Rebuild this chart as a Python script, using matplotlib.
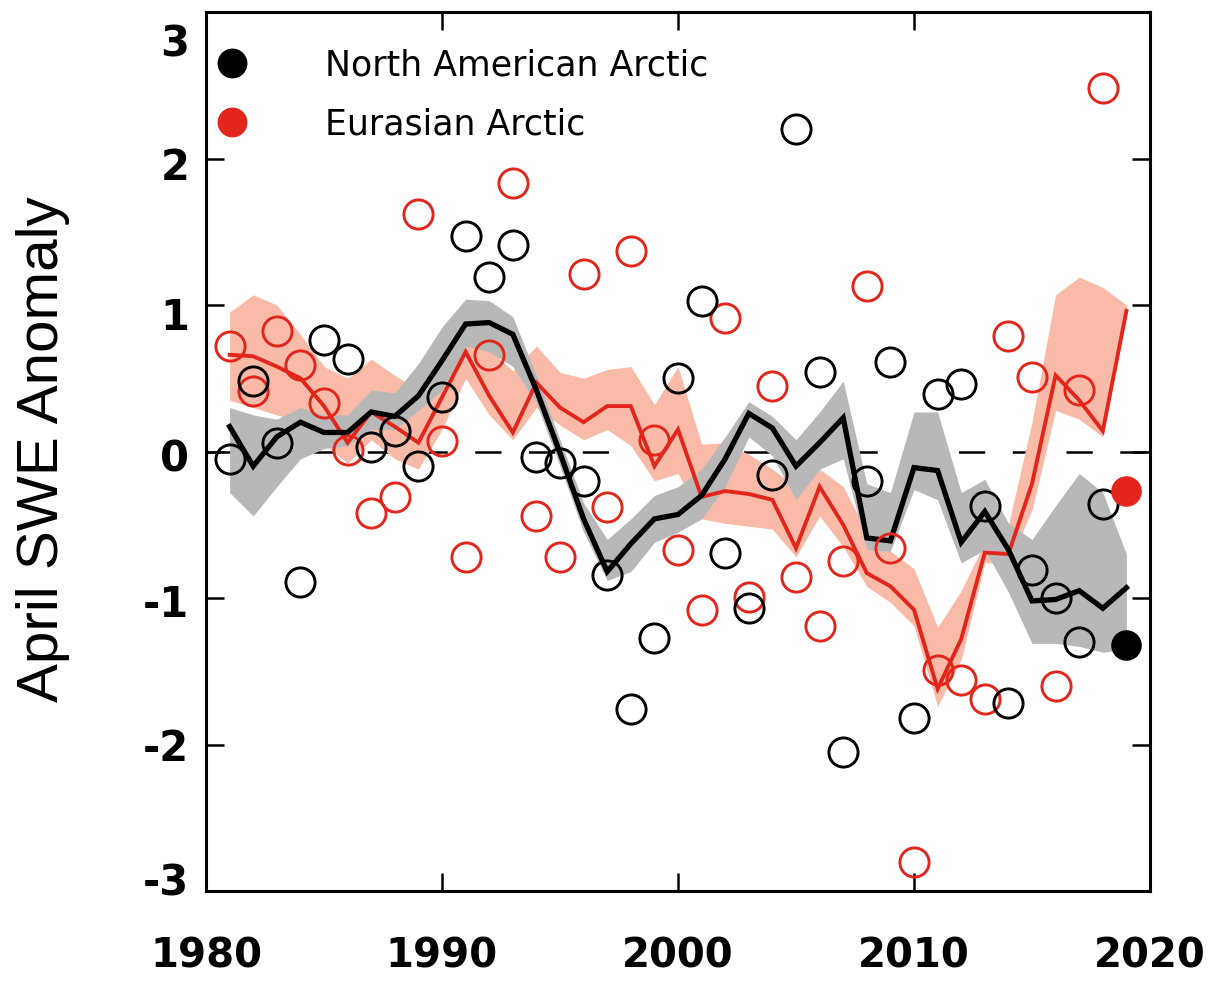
import numpy as np
import matplotlib
matplotlib.use("Agg")
import matplotlib.pyplot as plt
import matplotlib.transforms as mtransforms
from matplotlib.lines import Line2D

plt.rcParams['font.family'] = ['DejaVu Sans']

years = np.arange(1981, 2020)

# North American Arctic annual anomalies (open black circles; last year filled)
na_points = [-0.05, 0.48, 0.06, -0.89, 0.76, 0.63, 0.03, 0.14, -0.10, 0.37,
             1.47, 1.19, 1.41, -0.04, -0.08, -0.20, -0.84, -1.76, -1.27, 0.50,
             1.03, -0.69, -1.07, -0.16, 2.20, 0.54, -2.05, -0.20, 0.61, -1.82,
             0.39, 0.46, -0.37, -1.72, -0.81, -1.00, -1.30, -0.36, -1.32]

# Eurasian Arctic annual anomalies (open red circles; last year filled)
ea_points = [0.72, 0.41, 0.82, 0.59, 0.33, 0.01, -0.42, -0.31, 1.62, 0.07,
             -0.72, 0.66, 1.83, -0.44, -0.72, 1.21, -0.38, 1.37, 0.08, -0.67,
             -1.08, 0.91, -0.99, 0.45, -0.86, -1.19, -0.75, 1.13, -0.66, -2.80,
             -1.49, -1.56, -1.69, 0.79, 0.51, -1.60, 0.42, 2.48, -0.27]

# Black (North American) ensemble line and grey spread
na_line = [0.17, -0.10, 0.10, 0.20, 0.13, 0.13, 0.27, 0.24, 0.38, 0.62,
           0.87, 0.88, 0.80, 0.42, -0.01, -0.46, -0.82, -0.63, -0.46, -0.43,
           -0.30, -0.05, 0.26, 0.16, -0.10, 0.06, 0.23, -0.59, -0.61, -0.11,
           -0.13, -0.62, -0.41, -0.67, -1.02, -1.01, -0.95, -1.07, -0.93]
na_upper = [0.30, 0.25, 0.22, 0.30, 0.25, 0.25, 0.42, 0.40, 0.60, 0.85,
            1.04, 1.03, 0.92, 0.52, 0.08, -0.35, -0.60, -0.46, -0.30, -0.24,
            -0.12, 0.10, 0.34, 0.24, 0.08, 0.27, 0.48, -0.22, -0.28, 0.27,
            0.27, -0.28, -0.19, -0.49, -0.60, -0.37, -0.15, -0.28, -0.70]
na_lower = [-0.28, -0.44, -0.24, -0.05, 0.02, 0.04, 0.15, 0.15, 0.28, 0.42,
            0.72, 0.68, 0.58, 0.33, -0.10, -0.55, -0.88, -0.82, -0.62, -0.55,
            -0.46, -0.24, 0.10, -0.03, -0.33, -0.12, -0.05, -0.67, -0.68, -0.26,
            -0.33, -0.76, -0.67, -0.96, -1.31, -1.31, -1.33, -1.37, -1.35]

# Red (Eurasian) ensemble line and salmon spread
ea_line = [0.66, 0.65, 0.58, 0.50, 0.31, 0.06, 0.27, 0.17, 0.06, 0.37,
           0.68, 0.38, 0.13, 0.47, 0.30, 0.20, 0.31, 0.31, -0.10, 0.15,
           -0.31, -0.27, -0.29, -0.33, -0.66, -0.24, -0.50, -0.83, -0.92, -1.08,
           -1.62, -1.28, -0.69, -0.70, -0.22, 0.52, 0.35, 0.14, 0.96]
ea_upper = [0.95, 1.07, 1.00, 0.80, 0.58, 0.50, 0.63, 0.52, 0.42, 0.60,
            0.85, 0.70, 0.55, 0.72, 0.54, 0.50, 0.56, 0.58, 0.32, 0.58,
            0.05, 0.06, -0.02, -0.12, -0.24, -0.12, -0.24, -0.55, -0.68, -0.80,
            -1.20, -0.95, -0.62, -0.50, 0.20, 1.07, 1.19, 1.12, 1.00]
ea_lower = [0.35, 0.30, 0.25, 0.20, 0.05, -0.08, 0.08, -0.05, -0.12, 0.15,
            0.50, 0.25, 0.08, 0.30, 0.18, 0.08, 0.15, 0.04, -0.20, -0.15,
            -0.46, -0.49, -0.51, -0.53, -0.72, -0.44, -0.65, -0.92, -1.03, -1.19,
            -1.74, -1.42, -0.76, -0.76, -0.40, 0.28, 0.22, 0.10, 0.93]

x_ticks = [1980, 1990, 2000, 2010, 2020]
y_ticks = [-3, -2, -1, 0, 1, 2, 3]
labels = ["North American Arctic", "Eurasian Arctic"]

BLACK = "#000000"
RED = "#e3261c"
SALMON = "#f9bba8"
GREY = "#b8b8b8"

fig = plt.figure(figsize=(12.11, 9.86), dpi=100)
ax = fig.add_axes([206 / 1211, 1 - 891 / 986, 944 / 1211, 879 / 986])

ax.axhline(0, color=BLACK, lw=1.8, dashes=(10.5, 11), zorder=1)
ax.fill_between(years, ea_lower, ea_upper, color=SALMON, lw=0, zorder=2)
ax.fill_between(years, na_lower, na_upper, color=GREY, lw=0, zorder=3)
ax.plot(years, ea_line, color=RED, lw=2.8, zorder=4, solid_joinstyle='miter')
ax.plot(years, na_line, color=BLACK, lw=3.8, zorder=5, solid_joinstyle='miter')

ax.plot(years[:-1], ea_points[:-1], ls='none', marker='o', ms=21, mfc='none',
        mec=RED, mew=2.1, zorder=6)
ax.plot(years[:-1], na_points[:-1], ls='none', marker='o', ms=21, mfc='none',
        mec=BLACK, mew=2.1, zorder=7)
ax.plot(years[-1:], ea_points[-1:], ls='none', marker='o', ms=22, mfc=RED,
        mec=RED, mew=0, zorder=8)
ax.plot(years[-1:], na_points[-1:], ls='none', marker='o', ms=22, mfc=BLACK,
        mec=BLACK, mew=0, zorder=8)

ax.set_xlim(1980, 2020)
ax.set_ylim(-3, 3)
ax.set_xticks(x_ticks)
ax.set_yticks(y_ticks)
ax.set_xticklabels([str(v) for v in x_ticks])
ax.set_yticklabels([str(v) for v in y_ticks])
ax.tick_params(direction='in', length=13, width=1.8, top=True, right=True)
ax.tick_params(axis='x', pad=32.5, labelsize=29)
ax.tick_params(axis='y', pad=12, labelsize=30)
for lab in ax.get_xticklabels() + ax.get_yticklabels():
    lab.set_fontweight('bold')

# small vertical nudges of the y tick labels as in the reference (pixels)
y_shift_px = {3: -28, 2: -5, 1: -8, 0: -3, -1: -2, -2: 0, -3: 12}
for val, lab in zip(y_ticks, ax.get_yticklabels()):
    off = mtransforms.ScaledTranslation(0, y_shift_px[val] / 100, fig.dpi_scale_trans)
    lab.set_transform(lab.get_transform() + off)

for sp in ax.spines.values():
    sp.set_linewidth(2.2)

fig.text(43 / 1211, 1 - 449 / 986, "April SWE Anomaly", rotation=90,
         ha='center', va='center', fontsize=42, family=['Liberation Sans'])

handles = [Line2D([], [], ls='none', marker='o', ms=21.5, mfc=BLACK, mec=BLACK, mew=0),
           Line2D([], [], ls='none', marker='o', ms=21.5, mfc=RED, mec=RED, mew=0)]
ax.legend(handles, labels, loc='upper left', bbox_to_anchor=(214.6 / 1211, 1 - 48.5 / 986),
          bbox_transform=fig.transFigure, frameon=False, handlelength=1.0,
          handletextpad=2.18, labelspacing=0.72, borderpad=0, borderaxespad=0,
          fontsize=25)

fig.savefig("out.png", dpi=100)
